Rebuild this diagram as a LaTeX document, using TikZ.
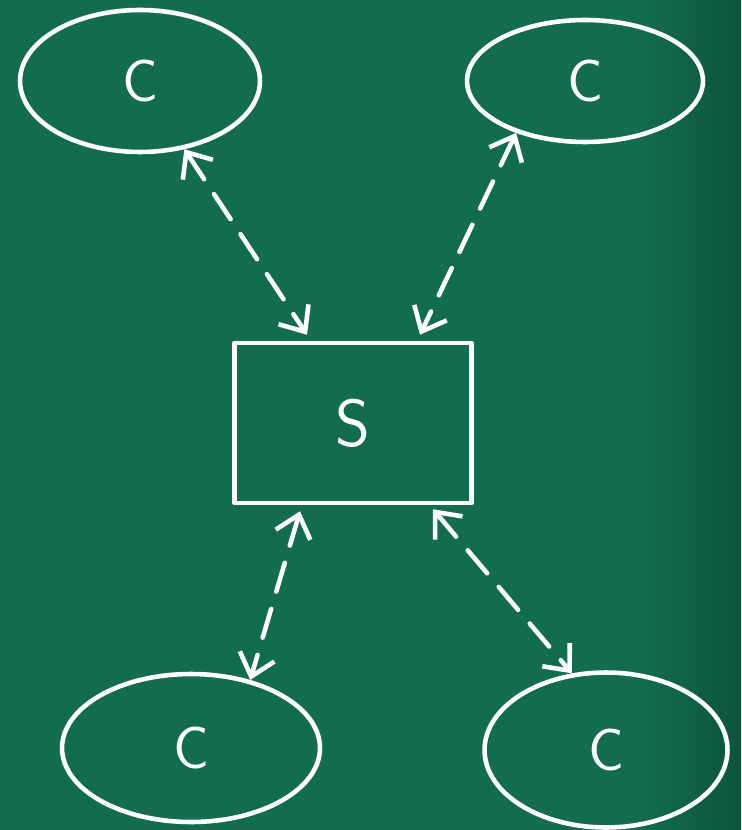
\documentclass[tikz,border=0pt]{standalone}
\usepackage{xcolor}
\usepackage{tikz}
\usetikzlibrary{shapes,positioning,calc,shapes.geometric,arrows.meta}

\definecolor{board}{RGB}{18,108,80}
\definecolor{boarddark}{RGB}{12,84,60}

\tikzset{
  chalk/.style={draw=white, line width=2.6pt, line cap=round, line join=round},
  client/.style={chalk, ellipse, inner sep=0pt, text=white,
    font=\sffamily\fontsize{34}{40}\selectfont},
  server/.style={chalk, rectangle, inner sep=0pt, text=white,
    minimum width=4.74cm, minimum height=3.2cm,
    font=\sffamily\fontsize{38}{44}\selectfont},
  link/.style={chalk, dash pattern=on 0.6cm off 0.36cm,
    {Straight Barb[length=0.42cm,width=0.72cm,line width=2.6pt]}-{Straight Barb[length=0.42cm,width=0.72cm,line width=2.6pt]}}
}

\begin{document}
\begin{tikzpicture}[x=0.02cm, y=-0.02cm]
% board
\useasboundingbox (0,0) rectangle (741,830);
\fill[board] (0,0) rectangle (741,830);
\shade[left color=board, right color=boarddark] (640,0) rectangle (741,830);

% server and clients
\node[server] (srv) at (353,423) {S};
\node[client, minimum width=4.8cm, minimum height=2.84cm] (cTL) at (140,81) {C};
\node[client, minimum width=4.72cm, minimum height=2.44cm] (cTR) at (585,81) {C};
\node[client, minimum width=5.16cm, minimum height=2.96cm] (cBL) at (191,748) {C};
\node[client, minimum width=4.86cm, minimum height=3.1cm] (cBR) at (606,750) {C};

% connections
\draw[link] (cTL.-57) -- ([xshift=-0.92cm, yshift=0.12cm]srv.north);
\draw[link] (cTR.-143) -- ([xshift=1.34cm, yshift=0.12cm]srv.north);
\draw[link] ([xshift=-1.06cm, yshift=-0.12cm]srv.south) -- (cBL.49);
\draw[link] ([xshift=1.6cm, yshift=-0.08cm]srv.south) -- (cBR.114);
\end{tikzpicture}
\end{document}
